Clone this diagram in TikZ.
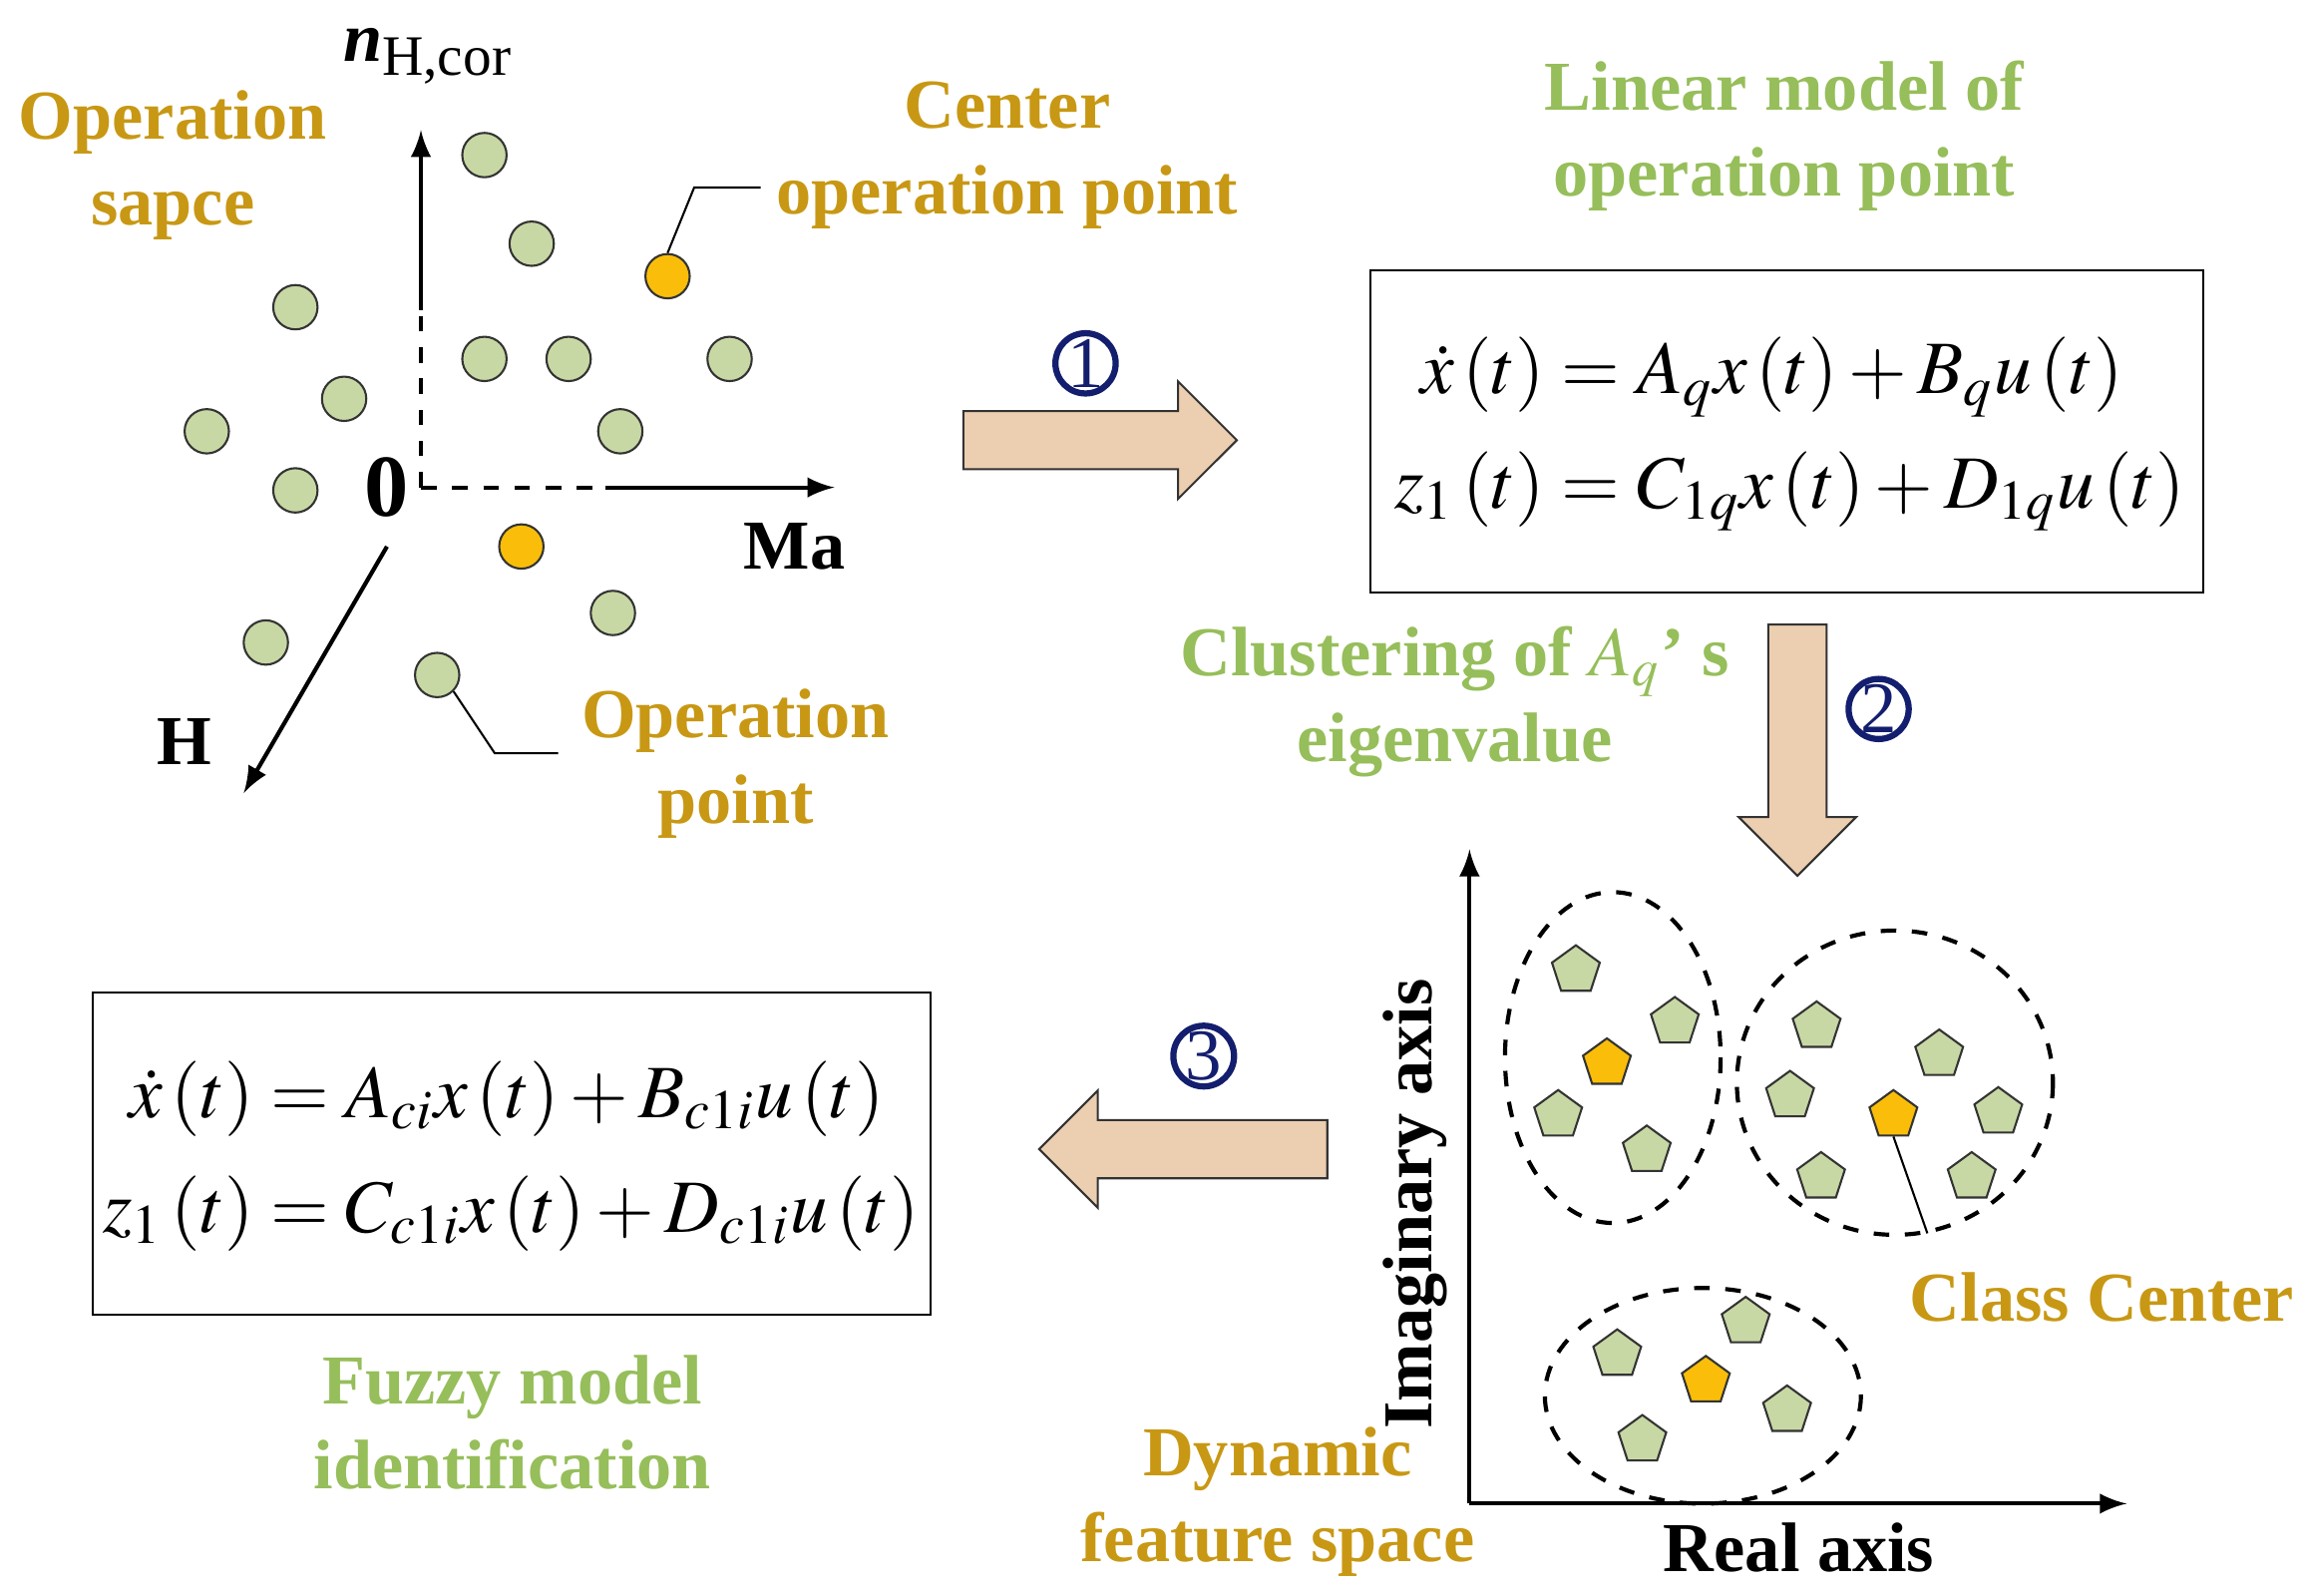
\documentclass[tikz,border=0pt]{standalone}
\usepackage{amsmath}
\usepackage{mathptmx}
\usepackage{fontspec}
\setmainfont{Liberation Serif}
\usetikzlibrary{shapes.geometric,shapes.arrows}
\definecolor{gold}{RGB}{200,152,20}
\definecolor{leaf}{RGB}{150,190,90}
\definecolor{pea}{RGB}{200,216,165}
\definecolor{amber}{RGB}{250,190,10}
\definecolor{sand}{RGB}{236,206,176}
\definecolor{navy}{RGB}{20,30,110}
\tikzset{
  every node/.style={font=\bfseries\fontsize{13.5}{16.5}\selectfont},
  gtext/.style={text=gold, align=center},
  ltext/.style={text=leaf, align=center},
  dot/.style={circle, draw=black!80, fill=pea, minimum size=0.3cm, inner sep=0},
  cdot/.style={dot, fill=amber},
  pent/.style={regular polygon, regular polygon sides=5, draw=black!80, fill=pea, minimum size=0.34cm, inner sep=0},
  cpent/.style={pent, fill=amber},
  bigarrow/.style={single arrow, draw=black!80, fill=sand, single arrow head extend=0.2cm, inner xsep=0, inner ysep=0.19cm, minimum height=1.85cm, minimum width=0.78cm, single arrow tip angle=90},
  num/.style={circle, draw=navy, very thick, text=navy, inner sep=0, minimum size=0.38cm, font=\mdseries\fontsize{14}{14}\selectfont},
  eq/.style={font=\mdseries\fontsize{14.5}{19}\selectfont}
}
\begin{document}
\begin{tikzpicture}[x=0.01cm, y=-0.01cm]
    \useasboundingbox (0,0) rectangle (1560,1080);

    % operation space
    \coordinate (O) at (285,330);
    \draw [-latex, thick] (285,210) -- (285,88);
    \draw [dashed, thick] (O) -- (285,210);
    \draw [dashed, thick] (O) -- (410,330);
    \draw [-latex, thick] (410,330) -- (565,330);
    \draw [-latex, thick] (262,370) -- (165,537);
    \node at (262,330) {\fontsize{17}{17}\selectfont 0};
    \node at (538,370) {Ma};
    \node at (125,502) {H};
    \node at (290,38) {\textit{n}\textsubscript{\mdseries\fontsize{11}{11}\selectfont H,cor}};

    \foreach \p [count=\i] in {(328,105),(360,165),(200,208),(328,243),(385,243),(494,243),(233,270),(140,292),(420,292),(200,332),(415,415),(180,435),(296,457)}
      \node[dot] (d\i) at \p {};
    \node[cdot] (c1) at (452,187) {};
    \node[cdot] (c2) at (353,370) {};

    \draw (c1.north) -- (470,127) -- (515,127);
    \draw (d13.south east) -- (335,510) -- (378,510);
    \node[gtext] at (117,112) {Operation\\sapce};
    \node[gtext] at (682,105) {Center\\operation point};
    \node[gtext] at (498,517) {Operation\\point};

    % step 1
    \node[bigarrow] (a1) at (735,298) {};
    \node[num] at (735,246) {1};
    \node[ltext] at (1208,92) {Linear model of\\operation point};
    \draw (928,183) rectangle (1492,401);
    \node[eq] at (1212,292) {$\begin{aligned}\dot x\left(t\right)&=A_qx\left(t\right)+B_qu\left(t\right)\\ z_1\left(t\right)&=C_{1q}x\left(t\right)+D_{1q}u\left(t\right)\end{aligned}$};

    % step 2
    \node[bigarrow, rotate=-90, minimum height=1.7cm] (a2) at (1217,498) {};
    \node[num] at (1272,480) {2};
    \node[ltext] at (985,475) {Clustering of $A_q$' s\\eigenvalue};

    % feature space
    \coordinate (R) at (995,1018);
    \draw [-latex, thick] (R) -- (995,575);
    \draw [-latex, thick] (R) -- (1440,1018);
    \node[rotate=90] at (958,815) {Imaginary axis};
    \node at (1218,1048) {Real axis};
    \draw [dashed, thick] (1092,716) ellipse [x radius=73, y radius=112];
    \draw [dashed, thick] (1283,733) ellipse [x radius=107, y radius=103];
    \draw [dashed, thick] (1153,945) ellipse [x radius=107, y radius=73];
    \foreach \p in {(1067,657),(1134,692),(1055,755),(1115,779),(1230,695),(1313,714),(1212,742),(1353,753),(1233,797),(1335,797),(1095,917),(1182,895),(1210,955),(1112,975)}
      \node[pent] at \p {};
    \node[cpent] at (1088,720) {};
    \node[cpent] (cc) at (1282,755) {};
    \node[cpent] at (1155,935) {};
    \draw (cc.south) -- (1305,835);
    \node[gtext] at (1423,878) {Class Center};
    \node[gtext] at (865,1017) {Dynamic\\feature space};

    % step 3
    \node[bigarrow, rotate=180, minimum height=1.95cm] (a3) at (811,778) {};
    \node[num] at (815,715) {3};
    \draw (63,672) rectangle (630,890);
    \node[eq] at (346,782) {$\begin{aligned}\dot x\left(t\right)&=A_{ci}x\left(t\right)+B_{c1i}u\left(t\right)\\ z_1\left(t\right)&=C_{c1i}x\left(t\right)+D_{c1i}u\left(t\right)\end{aligned}$};
    \node[ltext] at (347,963) {Fuzzy model\\identification};
\end{tikzpicture}
\end{document}
